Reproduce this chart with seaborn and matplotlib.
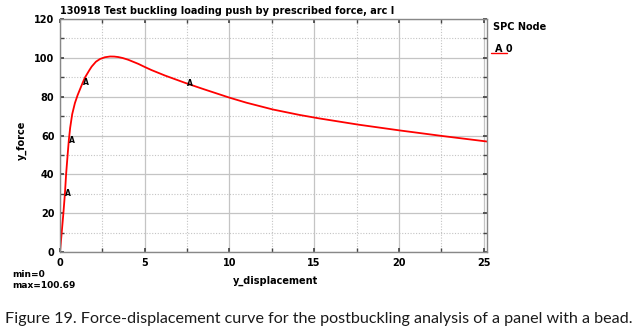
import matplotlib
matplotlib.use("Agg")
import matplotlib.pyplot as plt
import seaborn as sns
import pandas as pd
from matplotlib.lines import Line2D
from matplotlib.ticker import MultipleLocator

# ---- data ----
displacement = [0, 0.1, 0.2, 0.29, 0.36, 0.45, 0.52, 0.6, 0.72, 0.88, 1.04, 1.18,
                1.34, 1.47, 1.73, 1.87, 2.12, 2.36, 2.65, 2.95, 3.2, 3.44, 3.7,
                4.03, 4.62, 5.0, 5.4, 6.19, 7.45, 8.5, 10.0, 11.0, 12.56,
                14.13, 15.3, 17.6, 20.06, 22.6, 25.2]
force = [0, 10, 20, 30, 40, 50, 57.5, 64, 71, 76.7, 80.8, 83.8,
         87.2, 89.8, 93.6, 95.5, 98.0, 99.4, 100.3, 100.69, 100.65, 100.4, 99.9,
         99.0, 96.9, 95.3, 93.7, 90.9, 86.9, 83.8, 79.5, 76.9, 73.4,
         70.6, 68.8, 65.6, 62.6, 59.7, 56.9]
marker_x = [0.29, 0.52, 1.34, 7.45]
marker_y = [30, 57.5, 87.2, 86.9]
title = "130918 Test buckling loading push by prescribed force, arc l"
x_ticks = [0, 5, 10, 15, 20, 25]
y_ticks = [0, 20, 40, 60, 80, 100, 120]
caption = "Figure 19. Force-displacement curve for the postbuckling analysis of a panel with a bead."

df = pd.DataFrame({"y_displacement": displacement, "y_force": force})

sns.set_theme(style="white")
plt.rcParams["font.family"] = ["DejaVu Sans"]
plt.rcParams["text.color"] = "black"
plt.rcParams["xtick.color"] = "black"
plt.rcParams["ytick.color"] = "black"

fig = plt.figure(figsize=(6.43, 3.32), dpi=100)
ax = fig.add_axes([60/643, 80/332, 427/643, 233/332])

ax.xaxis.set_minor_locator(MultipleLocator(2.5))
ax.yaxis.set_minor_locator(MultipleLocator(10))
ax.grid(True, which="major", color="#c4c4c4", linewidth=0.9, linestyle="-")
ax.grid(True, which="minor", color="#c4c4c4", linewidth=0.8, linestyle=(0, (1, 1.5)))
ax.set_axisbelow(True)

sns.lineplot(data=df, x="y_displacement", y="y_force", sort=False, color="#ff0000",
             linewidth=1.3, ax=ax, legend=False)

for mx, my in zip(marker_x, marker_y):
    ax.annotate("A", (mx, my), xytext=(2.5, 0), textcoords="offset points",
                ha="center", va="center", fontsize=5.5, fontweight="bold", color="black")

ax.set_xlim(0, 25.2)
ax.set_ylim(0, 120)
ax.set_xticks(x_ticks)
ax.set_yticks(y_ticks)
ax.tick_params(axis="both", which="both", direction="in", length=3, color="#444444",
               labelsize=7, top=True, right=True, bottom=True, left=True, pad=4,
               labelcolor="black")
for lab in ax.get_xticklabels() + ax.get_yticklabels():
    lab.set_fontweight("bold")
for s in ax.spines.values():
    s.set_color("#888888")
    s.set_linewidth(1.0)

ax.set_xlabel("")
ax.set_ylabel("")
fig.text(275/643, 1 - 281/332, "y_displacement", ha="center", va="center",
         fontsize=7, fontweight="bold")
fig.text(22/643, 1 - 140/332, "y_force", ha="center", va="center", rotation=90,
         fontsize=7, fontweight="bold")
fig.text(60/643, 1 - 11/332, title, ha="left", va="center", fontsize=7, fontweight="bold")
fig.text(12/643, 1 - 280/332, "min=0\nmax=100.69", ha="left", va="center",
         fontsize=6.5, fontweight="bold", linespacing=1.2)

fig.text(493/643, 1 - 27/332, "SPC Node", ha="left", va="center", fontsize=7, fontweight="bold")
fig.add_artist(Line2D([491/643, 507/643], [1 - 53/332, 1 - 53/332], color="#ff0000",
                      linewidth=1.0, transform=fig.transFigure))
fig.text(495/643, 1 - 49/332, "A 0", ha="left", va="center", fontsize=7, fontweight="bold")

fig.text(5/643, 1 - 319/332, caption, ha="left", va="center", fontsize=11.6,
         family=["Lato", "DejaVu Sans"], color="#1a1a1a")

fig.savefig("out.png", dpi=100)
